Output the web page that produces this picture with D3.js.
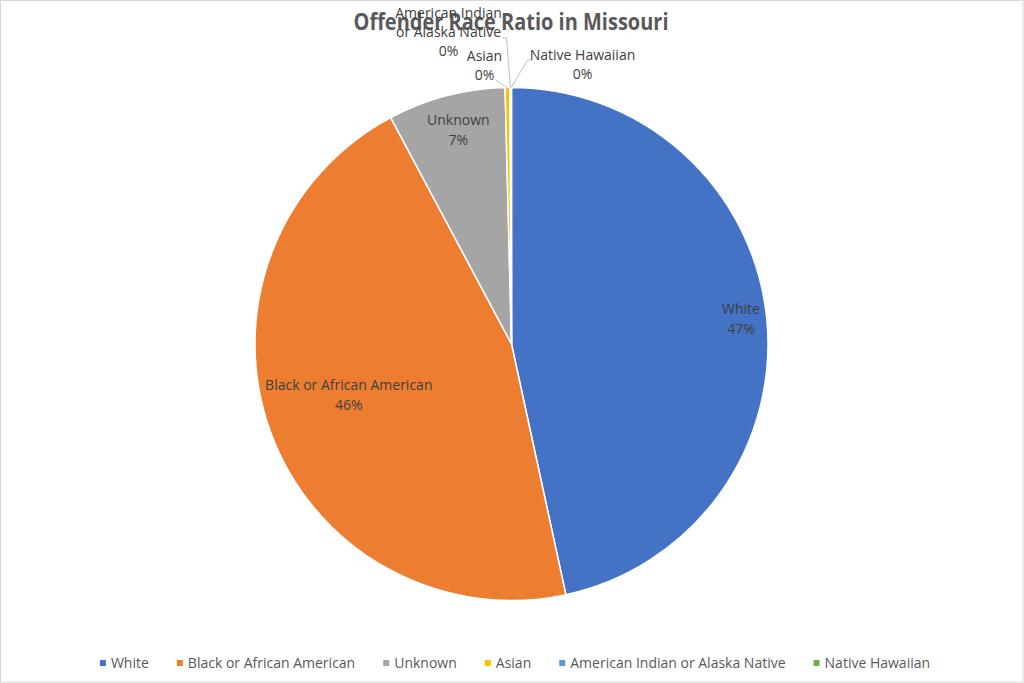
<!DOCTYPE html>
<meta charset="utf-8">
<style>
body { margin: 0; background: #fff; }
text { font-family: "Open Sans", Lato, sans-serif; }
.lbl { font-size: 14px; fill: #404040; text-anchor: middle; }
.legend text { font-size: 14px; fill: #595959; }
</style>
<svg width="1024" height="683"></svg>
<script src="https://d3js.org/d3.v7.min.js"></script>
<script>
// values (percent of offenders)
var races = ["White", "Black or African American", "Unknown", "Asian", "American Indian or Alaska Native", "Native Hawaiian"];
var shares = [46.6, 45.6, 7.4, 0.3, 0.07, 0.03];
var colors = ["#4472C4", "#ED7D31", "#A5A5A5", "#FFC000", "#5B9BD5", "#70AD47"];
// how labels are broken into lines
var labelLines = [["White"], ["Black or African American"], ["Unknown"], ["Asian"], ["American Indian", "or Alaska Native"], ["Native Hawaiian"]];

var svg = d3.select("svg"),
    width = +svg.attr("width"),
    height = +svg.attr("height");

svg.append("rect")
    .attr("x", 0.5).attr("y", 0.5)
    .attr("width", width - 1.5).attr("height", height - 1.5)
    .attr("fill", "#fff").attr("stroke", "#D9D9D9");

svg.append("text")
    .attr("x", 511).attr("y", 30)
    .attr("text-anchor", "middle")
    .attr("font-size", 23).attr("font-weight", "bold")
    .attr("fill", "#595959")
    .attr("textLength", 315).attr("lengthAdjust", "spacingAndGlyphs")
    .text("Offender Race Ratio in Missouri");

var cx = 511.5, cy = 344, r = 256.5;
var total = d3.sum(shares);
var data = races.map(function(d, i) { return {name: d, value: shares[i], i: i}; });

var pie = d3.pie().sort(null).value(function(d) { return d.value; });
var arc = d3.arc().innerRadius(0).outerRadius(r);
var arcs = pie(data);

var g = svg.append("g").attr("transform", "translate(" + cx + "," + cy + ")");

g.selectAll("path")
  .data(arcs)
  .enter().append("path")
    .attr("d", arc)
    .attr("fill", function(d) { return colors[d.data.i]; })
    .attr("stroke", "#fff")
    .attr("stroke-width", 1.5);

function pct(d) { return Math.round(d.data.value / total * 100) + "%"; }

// inside labels: [radius factor, angle nudge in degrees]
var inside = [[0.9, -0.2], [0.665, 2.7], [0.86, 0.8]];
arcs.slice(0, 3).forEach(function(d, k) {
  var a = (d.startAngle + d.endAngle) / 2 + inside[k][1] * Math.PI / 180, rr = r * inside[k][0];
  var x = Math.sin(a) * rr, y = -Math.cos(a) * rr;
  var lines = labelLines[d.data.i].concat([pct(d)]);
  var t = g.append("text").attr("class", "lbl")
      .attr("x", x).attr("y", y - (lines.length - 1) * 10 + 5);
  lines.forEach(function(s, j) {
    t.append("tspan").attr("x", x).attr("dy", j ? 20 : 0).text(s);
  });
});

// tiny slices: labels outside with leader lines
var outside = [
  {i: 3, x: -27, y: -283, lead: [[-16, -264], [-5, -257]]},
  {i: 4, x: -63, y: -326, lead: [[-9, -306], [-5, -306], [-1, -257]]},
  {i: 5, x: 71, y: -284, lead: [[20, -284], [16, -284], [1, -257]]}
];
outside.forEach(function(o) {
  var d = arcs[o.i];
  var a = (d.startAngle + d.endAngle) / 2;
  var edge = [Math.sin(a) * r, -Math.cos(a) * r];
  var pts = o.lead.slice(0, -1).concat([edge]);
  g.append("path")
      .attr("d", d3.line()(pts))
      .attr("fill", "none")
      .attr("stroke", "#BFBFBF")
      .attr("stroke-width", 1);
  var lines = labelLines[o.i].concat([pct(d)]);
  var t = g.append("text").attr("class", "lbl").attr("x", o.x).attr("y", o.y);
  lines.forEach(function(s, j) {
    t.append("tspan").attr("x", o.x).attr("dy", j ? 19 : 0).text(s);
  });
});

// legend
var legend = svg.append("g").attr("class", "legend");
var items = legend.selectAll("g").data(races).enter().append("g");
items.append("rect")
    .attr("width", 6).attr("height", 6)
    .attr("y", 660)
    .attr("fill", function(d, i) { return colors[i]; });
items.append("text")
    .attr("x", 11).attr("y", 668)
    .text(function(d) { return d; });
var xpos = 0, offsets = [];
items.each(function() {
  offsets.push(xpos);
  xpos += 11 + this.querySelector("text").getComputedTextLength() + 28;
});
var legW = xpos - 28, x0 = 515 - legW / 2;
items.attr("transform", function(d, i) { return "translate(" + (x0 + offsets[i]) + ",0)"; });
</script>
